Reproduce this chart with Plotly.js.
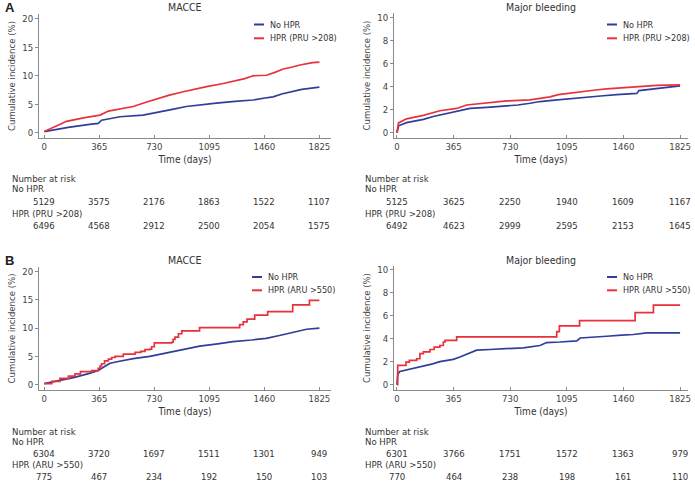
<!DOCTYPE html>
<html><head><meta charset="utf-8">
<script src="https://cdn.plot.ly/plotly-3.0.1.min.js"></script>
<style>html,body{margin:0;padding:0;background:#fff}</style>
</head><body><div id="chart" style="width:695px;height:484px"></div>
<script>
// ---------- data ----------
const timeTicks = [0, 365, 730, 1095, 1460, 1825];
const seriesNames = ['No HPR', 'HPR (PRU >208)', 'HPR (ARU >550)'];
const panelTitles = ['MACCE', 'Major bleeding', 'MACCE', 'Major bleeding'];

// A - MACCE (PRU)
const aMacceNoDays = [0, 60, 159, 300, 358, 380, 436, 502, 655, 765, 850, 942, 1040, 1141, 1265, 1385, 1464, 1518, 1575, 1651, 1708, 1825];
const aMacceNoVals = [0.2, 0.5, 0.95, 1.45, 1.65, 2.2, 2.5, 2.8, 3.1, 3.6, 4.1, 4.6, 4.95, 5.2, 5.5, 5.75, 6.1, 6.3, 6.8, 7.2, 7.6, 8.0];
const aMacceHprDays = [0, 60, 148, 260, 370, 425, 520, 590, 680, 723, 830, 922, 1000, 1077, 1180, 1254, 1330, 1385, 1474, 1530, 1585, 1640, 1696, 1780, 1825];
const aMacceHprVals = [0.2, 0.9, 2.0, 2.6, 3.1, 3.8, 4.2, 4.6, 5.4, 5.75, 6.6, 7.2, 7.7, 8.1, 8.6, 9.0, 9.5, 10.0, 10.1, 10.6, 11.2, 11.5, 11.9, 12.3, 12.4];
// A - Major bleeding (PRU)
const aBleedNoDays = [0, 5, 11, 62, 170, 234, 299, 385, 471, 580, 686, 780, 858, 922, 1000, 1073, 1160, 1245, 1330, 1417, 1500, 1546, 1560, 1675, 1760, 1825];
const aBleedNoVals = [0, 0.4, 0.6, 0.87, 1.16, 1.4, 1.6, 1.8, 2.1, 2.2, 2.3, 2.4, 2.55, 2.7, 2.8, 2.9, 3.0, 3.1, 3.2, 3.3, 3.35, 3.4, 3.65, 3.8, 3.95, 4.05];
const aBleedHprDays = [0, 4, 10, 62, 170, 277, 385, 449, 600, 707, 858, 920, 987, 1040, 1094, 1202, 1280, 1352, 1450, 1524, 1600, 1675, 1825];
const aBleedHprVals = [0, 0.6, 0.85, 1.2, 1.5, 1.9, 2.1, 2.4, 2.6, 2.75, 2.85, 3.0, 3.1, 3.3, 3.4, 3.6, 3.7, 3.8, 3.9, 3.95, 4.05, 4.1, 4.15];
// B - MACCE (ARU)
const bMacceNoDays = [0, 100, 200, 300, 358, 400, 436, 491, 590, 700, 811, 900, 1031, 1150, 1252, 1376, 1472, 1560, 1648, 1740, 1825];
const bMacceNoVals = [0.2, 0.7, 1.3, 2.0, 2.5, 3.2, 3.8, 4.1, 4.6, 5.0, 5.6, 6.1, 6.8, 7.2, 7.6, 7.9, 8.2, 8.7, 9.3, 9.8, 10.0];
const bMacceHprDays = [0, 50, 104, 160, 204, 240, 314, 358, 370, 380, 400, 425, 447, 470, 524, 602, 640, 668, 700, 712, 730, 845, 855, 867, 890, 912, 1030, 1296, 1320, 1345, 1396, 1482, 1648, 1759, 1825];
const bMacceHprVals = [0.2, 0.6, 1.1, 1.5, 1.9, 2.3, 2.5, 2.9, 3.3, 3.7, 4.2, 4.5, 4.8, 5.0, 5.4, 5.7, 5.9, 6.2, 6.3, 6.7, 7.4, 7.5, 8.0, 8.4, 9.0, 9.5, 10.1, 10.6, 11.1, 11.6, 12.3, 12.9, 14.1, 14.9, 14.9];
// B - Major bleeding (ARU)
const bBleedNoDays = [0, 3, 5, 19, 84, 170, 230, 277, 363, 406, 440, 471, 514, 600, 700, 815, 922, 965, 1050, 1159, 1181, 1260, 1352, 1450, 1524, 1610, 1825];
const bBleedNoVals = [0, 0.5, 0.9, 1.15, 1.33, 1.6, 1.8, 2.0, 2.2, 2.4, 2.6, 2.8, 3.0, 3.05, 3.1, 3.2, 3.4, 3.65, 3.7, 3.8, 4.05, 4.1, 4.2, 4.3, 4.35, 4.5, 4.5];
const bBleedHprDays = [0, 5, 58, 80, 127, 148, 170, 213, 240, 277, 299, 310, 385, 1030, 1047, 1177, 1535, 1653, 1825];
const bBleedHprVals = [0, 1.68, 1.95, 2.1, 2.25, 2.7, 2.85, 3.05, 3.25, 3.4, 3.7, 3.85, 4.15, 4.6, 5.1, 5.55, 6.25, 6.9, 6.9];

// numbers at risk
const aMacceRiskNo  = [5129, 3575, 2176, 1863, 1522, 1107];
const aMacceRiskHpr = [6496, 4568, 2912, 2500, 2054, 1575];
const aBleedRiskNo  = [5125, 3625, 2250, 1940, 1609, 1167];
const aBleedRiskHpr = [6492, 4623, 2999, 2595, 2153, 1645];
const bMacceRiskNo  = [6304, 3720, 1697, 1511, 1301, 949];
const bMacceRiskHpr = [775, 467, 234, 192, 150, 103];
const bBleedRiskNo  = [6301, 3766, 1751, 1572, 1363, 979];
const bBleedRiskHpr = [770, 464, 238, 198, 161, 110];

// ---------- layout helpers ----------
const W = 695, H = 484;
const FONT = '"DejaVu Sans Condensed","Liberation Sans Narrow",Roboto,sans-serif';
const BLUE = '#2f3f99', RED = '#e9313b';
const TXT = '#333', TICK = '#444';
const px = x => x / W, py = y => 1 - y / H;

const panels = [
  {id:'', dom:[39,331,14,138], xr:[-35,1902], yr:[-0.93,20.86], dt:5, title:panelTitles[0], hpr:seriesNames[1],
   no:[aMacceNoDays,aMacceNoVals,'linear'], hp:[aMacceHprDays,aMacceHprVals,'linear'], risk:[aMacceRiskNo,aMacceRiskHpr],
   leg:[254,264,268,24.5,38.3], rows:[178.5,188.5,201,213.5,225.5], labX:10},
  {id:'2', dom:[394,688,13,138], xr:[-19,1876], yr:[-0.46,10.37], dt:2, title:panelTitles[1], hpr:seriesNames[1],
   no:[aBleedNoDays,aBleedNoVals,'linear'], hp:[aBleedHprDays,aBleedHprVals,'linear'], risk:[aBleedRiskNo,aBleedRiskHpr],
   leg:[607,617,621,24.5,38.3], rows:[178.5,188.5,201,213.5,225.5], labX:363},
  {id:'3', dom:[39,331,267,390], xr:[-35,1902], yr:[-0.94,20.8], dt:5, title:panelTitles[2], hpr:seriesNames[2],
   no:[bMacceNoDays,bMacceNoVals,'linear'], hp:[bMacceHprDays,bMacceHprVals,'hv'], risk:[bMacceRiskNo,bMacceRiskHpr],
   leg:[252,262,266,277,290.3], rows:[431,441,453,464,476], labX:10},
  {id:'4', dom:[394,688,266,390], xr:[-19,1876], yr:[-0.46,10.29], dt:2, title:panelTitles[3], hpr:seriesNames[2],
   no:[bBleedNoDays,bBleedNoVals,'linear'], hp:[bBleedHprDays,bBleedHprVals,'hv'], risk:[bBleedRiskNo,bBleedRiskHpr],
   leg:[607,617,621,277,290.3], rows:[431,441,453,464,476], labX:363}
];

const data = [], annotations = [], shapes = [];
const layout = {
  width: W, height: H, margin: {l:0, r:0, t:0, b:0},
  paper_bgcolor: '#fff', plot_bgcolor: '#fff',
  font: {family: FONT, size: 10, color: TXT},
  showlegend: false
};
const txt = (s, x, y, xref, opts) => Object.assign({text:s, x:x, y:y, xref:xref||'paper', yref:'paper',
  showarrow:false, xanchor:'left', yanchor:'middle', font:{family:FONT, size:9.5, color:TXT}}, opts||{});

panels.forEach((p, i) => {
  const xa = 'x' + p.id, ya = 'y' + p.id;
  const axBase = {showline:true, linecolor:'#8a8a8a', linewidth:1, showgrid:false, zeroline:false,
    tickcolor:'#8a8a8a', ticklen:3, tickwidth:1, tickfont:{family:FONT, size:9.5, color:TICK}, fixedrange:true};
  layout['xaxis' + p.id] = Object.assign({}, axBase, {
    domain:[px(p.dom[0]), px(p.dom[1])], range:p.xr, anchor:ya, ticks:'inside',
    tickvals: timeTicks, ticktext: timeTicks.map(String),
    title:{text:'Time (days)', font:{family:FONT, size:10, color:TXT}, standoff:4}
  });
  layout['yaxis' + p.id] = Object.assign({}, axBase, {
    domain:[py(p.dom[3]), py(p.dom[2])], range:p.yr, anchor:xa, ticks:'outside', dtick:p.dt, tick0:0,
    title:{text:'Cumulative incidence (%)', font:{family:FONT, size:9.5, color:TICK}, standoff:4}
  });
  data.push({x:p.no[0], y:p.no[1], xaxis:xa, yaxis:ya, type:'scatter', mode:'lines', name:seriesNames[0],
    line:{color:BLUE, width:1.7, shape:p.no[2]}});
  data.push({x:p.hp[0], y:p.hp[1], xaxis:xa, yaxis:ya, type:'scatter', mode:'lines', name:p.hpr,
    line:{color:RED, width:1.7, shape:p.hp[2]}});
  // panel title
  annotations.push(txt(p.title, 0.5, py(i < 2 ? 7 : 260), xa + ' domain', {xanchor:'center', font:{family:FONT, size:10.5, color:TXT}}));
  // legend
  [[BLUE, seriesNames[0], p.leg[3]], [RED, p.hpr, p.leg[4]]].forEach(([c, n, y]) => {
    shapes.push({type:'line', xref:'paper', yref:'paper', x0:px(p.leg[0]), x1:px(p.leg[1]), y0:py(y), y1:py(y), line:{color:c, width:2}});
    annotations.push(txt(n, px(p.leg[2]), py(y), 'paper', {font:{family:FONT, size:9, color:TXT}}));
  });
  // numbers at risk
  annotations.push(txt('Number at risk', px(p.labX), py(p.rows[0])));
  annotations.push(txt(seriesNames[0], px(p.labX), py(p.rows[1])));
  annotations.push(txt(p.hpr, px(p.labX), py(p.rows[3])));
  timeTicks.forEach((t, k) => {
    annotations.push(txt(String(p.risk[0][k]), t, py(p.rows[2]), xa, {xanchor:'center'}));
    annotations.push(txt(String(p.risk[1][k]), t, py(p.rows[4]), xa, {xanchor:'center'}));
  });
});
annotations.push(txt('<b>A</b>', px(3), py(7), 'paper', {font:{family:'Liberation Sans, Arial, sans-serif', size:13, color:'#222'}}));
annotations.push(txt('<b>B</b>', px(3), py(260), 'paper', {font:{family:'Liberation Sans, Arial, sans-serif', size:13, color:'#222'}}));
layout.annotations = annotations;
layout.shapes = shapes;

Plotly.newPlot('chart', data, layout, {staticPlot:true, displayModeBar:false});
</script></body></html>
